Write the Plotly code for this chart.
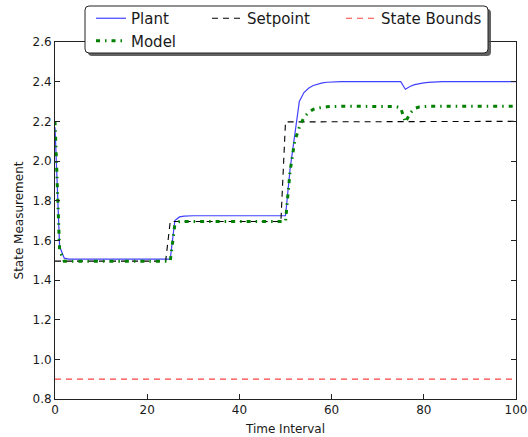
import plotly.graph_objects as go

# ---- data ----
time_interval = list(range(101))

plant = [
    2.17, 1.57, 1.51, 1.505, 1.505, 1.505, 1.505, 1.505, 1.505, 1.505,
    1.505, 1.505, 1.505, 1.505, 1.505, 1.505, 1.505, 1.505, 1.505, 1.505,
    1.505, 1.505, 1.505, 1.505, 1.505, 1.505, 1.70, 1.718, 1.722, 1.724,
    1.724, 1.724, 1.724, 1.724, 1.724, 1.724, 1.724, 1.724, 1.724, 1.724,
    1.724, 1.724, 1.724, 1.724, 1.724, 1.724, 1.724, 1.724, 1.724, 1.724,
    1.724, 1.96, 2.14, 2.30, 2.345, 2.367, 2.381, 2.389, 2.394, 2.397,
    2.399, 2.40, 2.40, 2.40, 2.40, 2.40, 2.40, 2.40, 2.40, 2.40,
    2.40, 2.40, 2.40, 2.40, 2.40, 2.40, 2.362, 2.376, 2.385, 2.39,
    2.394, 2.396, 2.398, 2.399, 2.40, 2.40, 2.40, 2.40, 2.40, 2.40,
    2.40, 2.40, 2.40, 2.40, 2.40, 2.40, 2.40, 2.40, 2.40, 2.40,
    2.40,
]

model = [
    2.20, 1.55, 1.495, 1.495, 1.495, 1.495, 1.495, 1.495, 1.495, 1.495,
    1.495, 1.495, 1.495, 1.495, 1.495, 1.495, 1.495, 1.495, 1.495, 1.495,
    1.495, 1.495, 1.495, 1.495, 1.495, 1.495, 1.68, 1.695, 1.695, 1.695,
    1.695, 1.695, 1.695, 1.695, 1.695, 1.695, 1.695, 1.695, 1.695, 1.695,
    1.695, 1.695, 1.695, 1.695, 1.695, 1.695, 1.695, 1.695, 1.695, 1.695,
    1.695, 1.95, 2.10, 2.17, 2.22, 2.245, 2.26, 2.267, 2.271, 2.273,
    2.275, 2.276, 2.276, 2.276, 2.276, 2.276, 2.276, 2.276, 2.276, 2.276,
    2.276, 2.276, 2.276, 2.276, 2.274, 2.268, 2.195, 2.24, 2.265, 2.272,
    2.275, 2.276, 2.276, 2.276, 2.276, 2.276, 2.276, 2.276, 2.276, 2.276,
    2.276, 2.276, 2.276, 2.276, 2.276, 2.276, 2.276, 2.276, 2.276, 2.276,
    2.276,
]

setpoint = [
    1.495, 1.495, 1.495, 1.495, 1.495, 1.495, 1.495, 1.495, 1.495, 1.495,
    1.495, 1.495, 1.495, 1.495, 1.495, 1.495, 1.495, 1.495, 1.495, 1.495,
    1.495, 1.495, 1.495, 1.495, 1.495, 1.695, 1.695, 1.695, 1.695, 1.695,
    1.695, 1.695, 1.695, 1.695, 1.695, 1.695, 1.695, 1.695, 1.695, 1.695,
    1.695, 1.695, 1.695, 1.695, 1.695, 1.695, 1.695, 1.695, 1.695, 1.695,
    2.197, 2.197, 2.197, 2.197, 2.197, 2.197, 2.197, 2.197, 2.197, 2.197,
    2.197, 2.197, 2.197, 2.197, 2.197, 2.197, 2.197, 2.197, 2.197, 2.197,
    2.197, 2.197, 2.197, 2.197, 2.197, 2.197, 2.197, 2.197, 2.197, 2.197,
    2.197, 2.197, 2.197, 2.197, 2.197, 2.197, 2.197, 2.197, 2.197, 2.197,
    2.197, 2.197, 2.197, 2.197, 2.197, 2.197, 2.197, 2.197, 2.197, 2.197,
    2.20,
]

bound_time = [0, 100]
state_bound = [0.9, 0.9]

series_names = ["Plant", "Model", "Setpoint", "State Bounds"]
x_ticks = [0, 20, 40, 60, 80, 100]
y_ticks = [0.8, 1.0, 1.2, 1.4, 1.6, 1.8, 2.0, 2.2, 2.4, 2.6]

FONT = "DejaVu Sans"
TXT = "#1a1a1a"

W, H = 528, 437
L, R, T, B = 55, 12, 42, 38
pw, ph = W - L - R, H - T - B


def px2paper(x, y):
    return (x - L) / pw, (H - B - y) / ph


fig = go.Figure()
fig.add_trace(go.Scatter(x=time_interval, y=plant, mode="lines", name=series_names[0],
                         legend="legend",
                         line=dict(color="rgba(0,0,255,0.75)", width=1.2)))
fig.add_trace(go.Scatter(x=time_interval, y=setpoint, mode="lines", name=series_names[2],
                         legend="legend2",
                         line=dict(color="black", width=1.1, dash="6px,5px")))
fig.add_trace(go.Scatter(x=bound_time, y=state_bound, mode="lines", name=series_names[3],
                         legend="legend3",
                         line=dict(color="rgba(255,0,0,0.75)", width=1.1, dash="6px,5px")))
fig.add_trace(go.Scatter(x=time_interval, y=model, mode="lines", name=series_names[1],
                         legend="legend",
                         line=dict(color="green", width=3, dash="4px,5px,1.5px,5px")))


def rounded(x0, y0, x1, y1, r=4):
    a = px2paper
    return (f"M {a(x0 + r, y0)[0]},{a(x0 + r, y0)[1]} "
            f"L {a(x1 - r, y0)[0]},{a(x1 - r, y0)[1]} "
            f"Q {a(x1, y0)[0]},{a(x1, y0)[1]} {a(x1, y0 + r)[0]},{a(x1, y0 + r)[1]} "
            f"L {a(x1, y1 - r)[0]},{a(x1, y1 - r)[1]} "
            f"Q {a(x1, y1)[0]},{a(x1, y1)[1]} {a(x1 - r, y1)[0]},{a(x1 - r, y1)[1]} "
            f"L {a(x0 + r, y1)[0]},{a(x0 + r, y1)[1]} "
            f"Q {a(x0, y1)[0]},{a(x0, y1)[1]} {a(x0, y1 - r)[0]},{a(x0, y1 - r)[1]} "
            f"L {a(x0, y0 + r)[0]},{a(x0, y0 + r)[1]} "
            f"Q {a(x0, y0)[0]},{a(x0, y0)[1]} {a(x0 + r, y0)[0]},{a(x0 + r, y0)[1]} Z")


fig.add_shape(type="path", path=rounded(88, 9, 491, 56), xref="paper", yref="paper",
              fillcolor="rgba(70,70,70,0.85)", line=dict(width=0), layer="above")
fig.add_shape(type="path", path=rounded(85, 6, 488, 53), xref="paper", yref="paper",
              fillcolor="white", line=dict(color="#222", width=1), layer="above")


def leg(xpx, ypx):
    px, py = px2paper(xpx, ypx)
    return dict(orientation="v", x=px, xanchor="left", y=py, yanchor="top",
                bgcolor="rgba(0,0,0,0)", borderwidth=0,
                font=dict(family=FONT, size=15, color=TXT), tracegroupgap=0)


fig.update_layout(
    width=W, height=H,
    margin=dict(l=L, r=R, t=T, b=B, pad=0, autoexpand=False),
    paper_bgcolor="white", plot_bgcolor="white",
    font=dict(family=FONT, size=12, color=TXT),
    showlegend=True,
    legend=leg(91, 2),
    legend2=leg(207, 2),
    legend3=leg(341, 2),
    xaxis=dict(range=[0, 100], tickvals=x_ticks, ticktext=[str(v) for v in x_ticks],
               ticks="inside", ticklen=5, tickcolor="#222", mirror="ticks", automargin=False,
               showline=True, linecolor="#222", linewidth=1, showgrid=False, zeroline=False,
               tickfont=dict(size=12, family=FONT, color=TXT),
               title=dict(text="Time Interval", font=dict(size=12, family=FONT, color=TXT), standoff=8)),
    yaxis=dict(range=[0.8, 2.6], tickvals=y_ticks, ticktext=[f"{v:.1f}" for v in y_ticks],
               ticks="inside", ticklen=5, tickcolor="#222", mirror="ticks", automargin=False,
               showline=True, linecolor="#222", linewidth=1, showgrid=False, zeroline=False,
               tickfont=dict(size=12, family=FONT, color=TXT),
               title=dict(text="State Measurement", font=dict(size=12, family=FONT, color=TXT), standoff=6)),
)

fig.write_html("out.html")
